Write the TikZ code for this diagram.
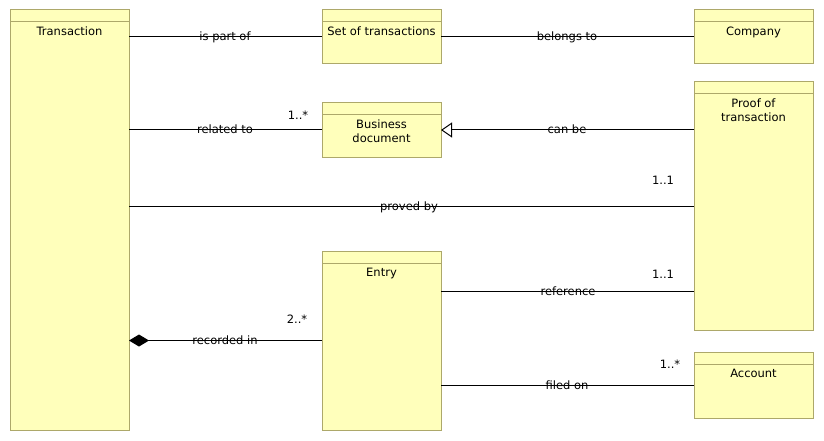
\documentclass[tikz,border=0pt]{standalone}
\usepackage{fontspec}
\setmainfont{DejaVu Sans}
\usetikzlibrary{arrows.meta,calc}
\definecolor{clsfill}{HTML}{FFFFBB}
\definecolor{clsdraw}{HTML}{ADA86A}
\tikzset{
  cls/.style={draw=clsdraw, fill=clsfill, line width=1pt, anchor=north west, inner sep=0pt, outer sep=0pt},
  ttl/.style={font=\fontsize{11.5}{14}\selectfont, align=center, anchor=base, inner sep=0pt},
  lbl/.style={font=\fontsize{11.5}{14}\selectfont, anchor=base, inner sep=0pt},
  conn/.style={draw=black, line width=1pt},
}
\newcommand{\umlclass}[7]{% name, x, y, w, h, title, title base offset
  \node[cls, minimum width=#4pt, minimum height=#5pt] (#1) at (#2,#3) {};
  \draw[clsdraw, line width=1pt] ($(#1.north west)+(0,12)$) -- ($(#1.north east)+(0,12)$);
  \node[ttl] (#1-t) at ($(#1.north)+(0,#7)$) {#6};
}
\begin{document}
\begin{tikzpicture}[x=1pt,y=-1pt]
\useasboundingbox (0,0) rectangle (824,441);
\umlclass{tr}{10}{10}{119}{420}{Transaction}{25.5}
\umlclass{set}{322}{10}{119}{54}{Set of transactions}{25.5}
\umlclass{comp}{694}{10}{119}{54}{Company}{25.5}
\umlclass{bd}{322}{103}{119}{54}{Business\\document}{39.5}
\umlclass{proof}{694}{82}{119}{248}{Proof of\\transaction}{39.5}
\umlclass{entry}{322}{251}{119}{179}{Entry}{25.5}
\umlclass{acc}{694}{352}{119}{66}{Account}{25.5}

\coordinate (refE) at (441,291);
\coordinate (refP) at (694,291);

\draw[conn] (tr.east |- set.west) -- (set.west);
\draw[conn] (set.east) -- (comp.west);
\draw[conn] (tr.east |- bd.west) -- (bd.west);
\draw[conn, -{Triangle[open, fill=white, length=11pt, width=15pt]}] (proof.west |- bd.east) -- (bd.east);
\draw[conn] (tr.east |- proof.west) -- (proof.west);
\draw[conn] (refE) -- (refP);
\draw[conn, {Diamond[length=20pt, width=12pt]}-] (tr.east |- entry.west) -- (entry.west);
\draw[conn] (entry.east |- acc.west) -- (acc.west);

\node[lbl] (l1) at (225,41) {is part of};
\node[lbl] (l2) at (567,41) {belongs to};
\node[lbl] (l3) at (225,134) {related to};
\node[lbl] (l4) at (567,134) {can be};
\node[lbl] (l5) at (409,210) {proved by};
\node[lbl] (l6) at (568,295) {reference};
\node[lbl] (l7) at (225,344) {recorded in};
\node[lbl] (l8) at (567,389) {filed on};

\node[lbl] (m1) at (298,120) {1..*};
\node[lbl] (m2) at (663,184) {1..1};
\node[lbl] (m3) at (663,278) {1..1};
\node[lbl] (m4) at (297,323) {2..*};
\node[lbl] (m5) at (670,368) {1..*};
\end{tikzpicture}
\end{document}
